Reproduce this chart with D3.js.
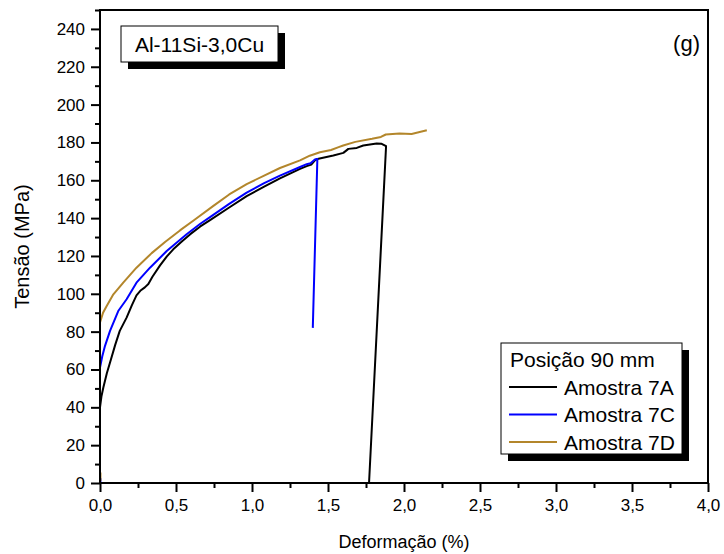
<!DOCTYPE html>
<html>
<head>
<meta charset="utf-8">
<script src="https://cdn.jsdelivr.net/npm/d3@7"></script>
<style>
  html, body { margin: 0; padding: 0; background: #fff; }
  svg { display: block; font-family: "Liberation Sans", Arial, sans-serif; }
</style>
</head>
<body>
<svg id="chart" width="724" height="554"></svg>
<script>
// Tensile curves, strain (%) vs stress (MPa)
const amostra7A = [
  [0, 40], [0.01, 46], [0.022, 50.5], [0.045, 58], [0.066, 63.7], [0.10, 73],
  [0.13, 80.4], [0.175, 87.4], [0.21, 94], [0.24, 99.2], [0.265, 101.6],
  [0.295, 103.4], [0.318, 105.2], [0.345, 109], [0.395, 115], [0.44, 119.8],
  [0.482, 123.5], [0.54, 127.8], [0.592, 131.4], [0.66, 135.6], [0.724, 138.9],
  [0.85, 145.6], [0.965, 151.6], [1.08, 156.6], [1.184, 161], [1.316, 166],
  [1.36, 167.5], [1.39, 168.3], [1.414, 170.5], [1.43, 171.3], [1.535, 173.1],
  [1.601, 174.5], [1.634, 176.6], [1.689, 177.1], [1.732, 178.4], [1.82, 179.4],
  [1.853, 179.3], [1.882, 178], [1.77, 0]
];
const amostra7C = [
  [0.003, 0.5], [0.003, 2.5], null,
  [0, 61], [0.015, 67], [0.033, 72.5], [0.066, 80.4], [0.12, 90.9], [0.175, 97.1],
  [0.24, 105.9], [0.329, 113.8], [0.439, 122.6], [0.57, 131.5], [0.66, 137],
  [0.724, 140.5], [0.85, 147.5], [0.965, 153.5], [1.08, 158.5], [1.184, 162.5],
  [1.316, 167], [1.36, 168.5], [1.385, 169], [1.414, 171], [1.43, 171.3], [1.40, 82]
];
const amostra7D = [
  [0.003, 1], [0.003, 5.5], null,
  [0, 84.8], [0.02, 90], [0.044, 93.6], [0.088, 99.7], [0.153, 105.9], [0.24, 113.8],
  [0.34, 121.5], [0.43, 127.5], [0.526, 133.5], [0.62, 139], [0.746, 146.5],
  [0.85, 152.5], [0.965, 158], [1.08, 162.5], [1.184, 166.5], [1.316, 170.5],
  [1.38, 173], [1.447, 174.8], [1.52, 176], [1.57, 177.5], [1.60, 178.4],
  [1.68, 180.3], [1.79, 181.9], [1.848, 182.9], [1.88, 184.2], [1.97, 184.7],
  [2.05, 184.5], [2.15, 186.4]
];
const seriesNames = ["Amostra 7A", "Amostra 7C", "Amostra 7D"];
const seriesColors = ["#000000", "#0000ff", "#b3862b"];
const xTicks = [0, 0.5, 1, 1.5, 2, 2.5, 3, 3.5, 4];
const xMinorTicks = [0.25, 0.75, 1.25, 1.75, 2.25, 2.75, 3.25, 3.75];
const yTicks = [0, 20, 40, 60, 80, 100, 120, 140, 160, 180, 200, 220, 240];
const yMinorTicks = [10, 30, 50, 70, 90, 110, 130, 150, 170, 190, 210, 230, 250];
const alloyLabel = "Al-11Si-3,0Cu";
const panelLabel = "(g)";
const legendTitle = "Posição 90 mm";

const svg = d3.select("#chart");
const plotLeft = 100, plotRight = 708, plotTop = 10, plotBottom = 483;

const x = d3.scaleLinear().domain([0, 4]).range([plotLeft, plotRight]);
const y = d3.scaleLinear().domain([0, 250]).range([plotBottom, plotTop]);
const fmt = v => d3.format(".1f")(v).replace(".", ",");

// curves
const line = d3.line()
  .defined(d => d !== null)
  .x(d => x(d[0])).y(d => y(d[1]));
[amostra7A, amostra7C, amostra7D].forEach((data, i) => {
  svg.append("path")
    .attr("d", line(data))
    .attr("fill", "none")
    .attr("stroke", seriesColors[i])
    .attr("stroke-width", 2)
    .attr("stroke-linejoin", "round");
});

// frame
svg.append("rect")
  .attr("x", plotLeft).attr("y", plotTop)
  .attr("width", plotRight - plotLeft).attr("height", plotBottom - plotTop)
  .attr("fill", "none").attr("stroke", "#000").attr("stroke-width", 2);

// axes
function styleAxis(g) {
  g.select(".domain").remove();
  g.selectAll(".tick line").attr("stroke", "#000").attr("stroke-width", 2);
  g.selectAll(".tick text").attr("fill", "#000").attr("font-size", 17)
    .attr("font-family", "Liberation Sans, Arial, sans-serif");
}
svg.append("g").attr("transform", `translate(0,${plotBottom})`)
  .call(d3.axisBottom(x).tickValues(xTicks).tickFormat(fmt).tickSize(9).tickPadding(7))
  .call(styleAxis);
svg.append("g").attr("transform", `translate(0,${plotBottom})`)
  .call(d3.axisBottom(x).tickValues(xMinorTicks).tickFormat("").tickSize(5))
  .call(styleAxis);
svg.append("g").attr("transform", `translate(${plotLeft},0)`)
  .call(d3.axisLeft(y).tickValues(yTicks).tickFormat(d3.format("d")).tickSize(9).tickPadding(6))
  .call(styleAxis);
svg.append("g").attr("transform", `translate(${plotLeft},0)`)
  .call(d3.axisLeft(y).tickValues(yMinorTicks).tickFormat("").tickSize(5))
  .call(styleAxis);

// axis titles
svg.append("text")
  .attr("x", (plotLeft + plotRight) / 2).attr("y", 548)
  .attr("text-anchor", "middle").attr("font-size", 18)
  .text("Deformação (%)");
svg.append("text")
  .attr("transform", `translate(29,${(plotTop + plotBottom) / 2}) rotate(-90)`)
  .attr("text-anchor", "middle").attr("font-size", 20)
  .text("Tensão (MPa)");

// alloy label with drop shadow
const tb = { x: 121, y: 26, w: 157, h: 36 };
svg.append("rect").attr("x", tb.x + 7).attr("y", tb.y + 7)
  .attr("width", tb.w).attr("height", tb.h).attr("fill", "#000");
svg.append("rect").attr("x", tb.x).attr("y", tb.y)
  .attr("width", tb.w).attr("height", tb.h)
  .attr("fill", "#fff").attr("stroke", "#000").attr("stroke-width", 1);
svg.append("text").attr("x", tb.x + tb.w / 2).attr("y", tb.y + 26)
  .attr("text-anchor", "middle").attr("font-size", 21).text(alloyLabel);

// panel label
svg.append("text").attr("x", 700).attr("y", 51)
  .attr("text-anchor", "end").attr("font-size", 22).text(panelLabel);

// legend with drop shadow
const lg = { x: 501, y: 343, w: 181, h: 111 };
svg.append("rect").attr("x", lg.x + 7).attr("y", lg.y + 7)
  .attr("width", lg.w).attr("height", lg.h).attr("fill", "#000");
svg.append("rect").attr("x", lg.x).attr("y", lg.y)
  .attr("width", lg.w).attr("height", lg.h)
  .attr("fill", "#fff").attr("stroke", "#000").attr("stroke-width", 1);
svg.append("text").attr("x", lg.x + 9).attr("y", lg.y + 24)
  .attr("font-size", 21).text(legendTitle);
seriesNames.forEach((name, i) => {
  const cy = lg.y + 44 + i * 27.5;
  svg.append("line")
    .attr("x1", lg.x + 8).attr("x2", lg.x + 56)
    .attr("y1", cy).attr("y2", cy)
    .attr("stroke", seriesColors[i]).attr("stroke-width", 2);
  svg.append("text").attr("x", lg.x + 63).attr("y", cy + 7.5)
    .attr("font-size", 21).text(name);
});
</script>
</body>
</html>
